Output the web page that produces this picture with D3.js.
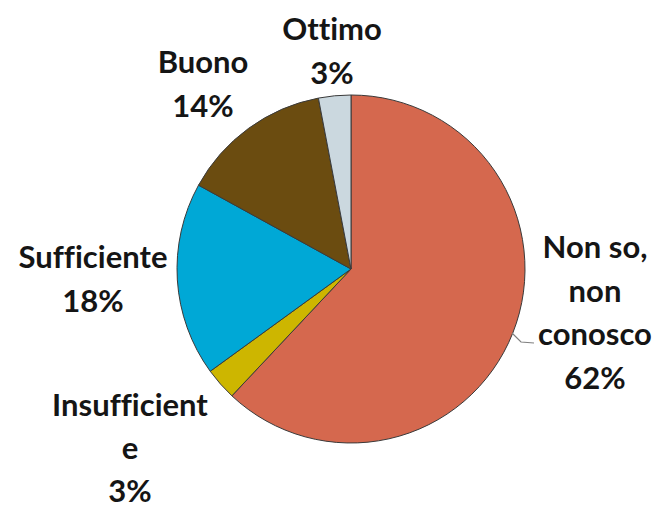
<!DOCTYPE html>
<html><head><meta charset="utf-8">
<script src="https://cdn.jsdelivr.net/npm/d3@7"></script>
<style>html,body{margin:0;padding:0;background:#fff;}</style>
</head><body>
<svg id="chart" width="660" height="508"></svg>
<script>
const categories = ["Non so, non conosco", "Insufficiente", "Sufficiente", "Buono", "Ottimo"];
const values = [62, 3, 18, 14, 3];
const labelLines = [["Non so,", "non", "conosco", "62%"], ["Insufficient", "e", "3%"], ["Sufficiente", "18%"], ["Buono", "14%"], ["Ottimo", "3%"]];
const colors = ["#D5684E", "#CDB600", "#00A8D6", "#6B4C10", "#CBD8DF"];
const labelPos = [[595, 246], [130, 404], [93, 256], [203, 61], [332, 28]];

const svg = d3.select("#chart");
const cx = 351, cy = 269, r = 174;
const pie = d3.pie().sort(null).value(d => d)(values);
const arc = d3.arc().innerRadius(0).outerRadius(r);
const g = svg.append("g").attr("transform", `translate(${cx},${cy})`);
g.selectAll("path").data(pie).join("path")
  .attr("d", arc)
  .attr("fill", (d, i) => colors[i])
  .attr("stroke", "#3a3a3a").attr("stroke-width", 1);

// leader line for the big slice
svg.append("path").attr("d", "M512,333 L521,342 L534,343")
  .attr("fill", "none").attr("stroke", "#7f7f7f").attr("stroke-width", 1.2);

labelLines.forEach((lines, i) => {
  const lh = lines.length === 3 ? 43 : 43.5;
  const t = svg.append("text")
    .attr("font-family", "Lato, 'Open Sans', sans-serif")
    .attr("font-weight", "bold").attr("font-size", 31)
    .style("font-variant-ligatures", "none")
    .attr("fill", "#151515").attr("text-anchor", "middle");
  lines.forEach((s, j) => {
    t.append("tspan").attr("x", labelPos[i][0]).attr("y", labelPos[i][1] + j * lh)
      .attr("dominant-baseline", "central").text(s);
  });
});
</script>
</body></html>
